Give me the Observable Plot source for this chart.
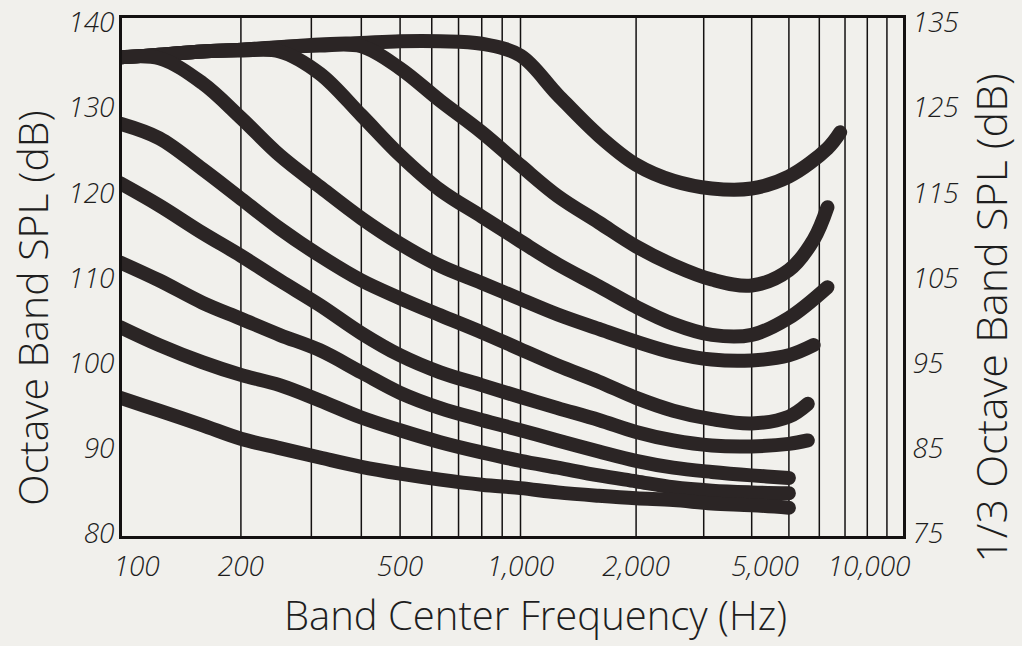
<!DOCTYPE html>
<html>
<head>
<meta charset="utf-8">
<script src="https://cdn.jsdelivr.net/npm/d3@7"></script>
<script src="https://cdn.jsdelivr.net/npm/@observablehq/plot@0.6"></script>
<style>
  html, body { margin: 0; padding: 0; background: #f1f0ec; }
  #chart svg { display: block; }
</style>
</head>
<body>
<div id="chart"></div>
<script>
// ---- Data ----
// 1/3-octave band centre frequencies (Hz) at which each curve was read
const bandFreqs = [100, 125, 160, 200, 250, 315, 400, 500, 630, 800, 1000, 1250, 1600, 2000, 2500, 3150, 4000, 5000];

// Octave band SPL (dB) of each curve at bandFreqs
const curveA = [136.0, 136.3, 136.7, 136.9, 137.2, 137.5, 137.7, 137.9, 137.9, 137.6, 136.2, 131.6, 126.8, 123.4, 121.5, 120.6, 120.6, 122.0];
const curveB = [136.0, 136.3, 136.7, 136.9, 137.2, 137.4, 137.3, 134.7, 130.9, 127.2, 123.3, 119.7, 116.6, 113.8, 111.6, 109.9, 109.2, 111.0];
const curveC = [136.0, 136.3, 136.7, 136.8, 136.7, 134.1, 129.2, 124.5, 120.4, 117.3, 114.4, 111.7, 109.1, 106.7, 104.7, 103.4, 103.4, 105.4];
const curveD = [136.0, 135.9, 133.0, 128.9, 124.5, 120.8, 117.1, 114.1, 111.5, 109.5, 107.6, 105.8, 104.1, 102.6, 101.3, 100.5, 100.4, 101.0];
const curveE = [128.2, 126.5, 122.9, 119.4, 115.9, 112.7, 109.8, 107.7, 105.7, 103.7, 101.7, 99.8, 97.9, 96.0, 94.5, 93.5, 93.0, 93.8];
const curveF = [121.2, 118.6, 115.4, 112.7, 109.8, 106.9, 103.6, 101.0, 99.0, 97.5, 96.1, 94.8, 93.4, 92.0, 91.0, 90.4, 90.3, 90.6];
const curveG = [111.9, 109.8, 107.2, 105.3, 103.4, 101.6, 99.0, 96.6, 94.8, 93.4, 92.2, 91.0, 89.7, 88.6, 87.8, 87.3, 86.9, 86.6];
const curveH = [104.3, 102.2, 100.2, 98.7, 97.5, 95.7, 93.7, 92.2, 90.8, 89.6, 88.6, 87.8, 86.9, 86.2, 85.5, 85.1, 84.9, 84.8];
const curveI = [96.0, 94.5, 92.8, 91.2, 90.1, 89.0, 87.9, 87.1, 86.4, 85.8, 85.4, 84.9, 84.5, 84.2, 84.0, 83.6, 83.4, 83.1];

// End points of curves that run past 5000 Hz: [frequency, SPL]
const tailA = [[6300, 125.3], [6800, 127.2]];
const tailB = [[5800, 114.6], [6300, 118.4]];
const tailC = [[6300, 109.0]];
const tailD = [[5800, 102.2]];
const tailE = [[5600, 95.3]];
const tailF = [[5600, 91.0]];

// Grid and axis ticks
const gridFreqs = [200, 300, 400, 500, 600, 700, 800, 900, 1000, 2000, 3000, 4000, 5000, 6000, 7000, 8000, 9000];
const xTickLabels = [100, 200, 500, 1000, 2000, 5000, 10000];
const leftTicks = [80, 90, 100, 110, 120, 130, 140];
const rightTicks = [75, 85, 95, 105, 115, 125, 135]; // 1/3 octave band SPL
const rightOffset = 5; // octave band SPL = 1/3 octave band SPL + 5 dB

const xTitle = "Band Center Frequency (Hz)";
const leftTitle = "Octave Band SPL (dB)";
const rightTitle = "1/3 Octave Band SPL (dB)";

// ---- Build table ----
const series = [
  ["A", curveA, tailA], ["B", curveB, tailB], ["C", curveC, tailC],
  ["D", curveD, tailD], ["E", curveE, tailE], ["F", curveF, tailF],
  ["G", curveG, []], ["H", curveH, []], ["I", curveI, []]
];
const rows = [];
for (const [id, vals, tail] of series) {
  vals.forEach((v, i) => rows.push({curve: id, freq: bandFreqs[i], spl: v}));
  tail.forEach(([f, v]) => rows.push({curve: id, freq: f, spl: v}));
}

const ink = "#2b2525";
const fontFam = "'Open Sans', 'DejaVu Sans', sans-serif";
const tickFont = {fontSize: 28, fontStyle: "italic", fontWeight: 300, fontFamily: fontFam, fill: "#1e1e1e"};
const titleFont = {fontWeight: 300, fontFamily: fontFam, fill: "#1e1e1e", textAnchor: "middle", lineAnchor: "middle"};
const fmt = d3.format(",");
const xAxisBase = {anchor: "bottom", tickSize: 0, tickPadding: 19, label: null, tickFormat: fmt, ...tickFont};

const chart = Plot.plot({
  width: 1022,
  height: 646,
  marginLeft: 120,
  marginRight: 118,
  marginTop: 16,
  marginBottom: 109,
  style: {background: "#f1f0ec", color: "#1e1e1e", fontFamily: fontFam},
  x: {type: "log", domain: [100, 1000, 10000], range: [120, 520, 904], label: null},
  y: {domain: [79.6, 140.8], label: null},
  marks: [
    Plot.ruleX(gridFreqs, {stroke: "#141111", strokeWidth: 1.5}),
    Plot.line(rows, {
      x: "freq", y: "spl", z: "curve",
      stroke: ink, strokeWidth: 14,
      strokeLinecap: "round", strokeLinejoin: "round",
      curve: "catmull-rom", clip: true
    }),
    Plot.frame({stroke: "#141111", strokeWidth: 3}),
    Plot.axisY(leftTicks, {anchor: "left", tickSize: 0, tickPadding: 6, label: null, ...tickFont}),
    Plot.axisY(rightTicks.map(v => v + rightOffset), {
      anchor: "right", tickSize: 0, tickPadding: 8, label: null,
      tickFormat: d => d - rightOffset, ...tickFont
    }),
    Plot.axisX(xTickLabels.slice(1, -2), xAxisBase),
    Plot.axisX(xTickLabels.slice(0, 1), {...xAxisBase, textAnchor: "start", dx: -7}),
    Plot.axisX(xTickLabels.slice(-2, -1), {...xAxisBase, textAnchor: "end", dx: 10}),
    Plot.axisX(xTickLabels.slice(-1), {...xAxisBase, textAnchor: "end", dx: 6}),
    Plot.text([xTitle], {text: d => d, frameAnchor: "bottom", dx: 23, dy: 80, fontSize: 40, ...titleFont}),
    Plot.text([leftTitle], {text: d => d, frameAnchor: "left", rotate: -90, dx: -86, dy: 31, fontSize: 41, ...titleFont}),
    Plot.text([rightTitle], {text: d => d, frameAnchor: "right", rotate: -90, dx: 89, dy: 41, fontSize: 43, ...titleFont})
  ]
});
document.getElementById("chart").appendChild(chart);
</script>
</body>
</html>
